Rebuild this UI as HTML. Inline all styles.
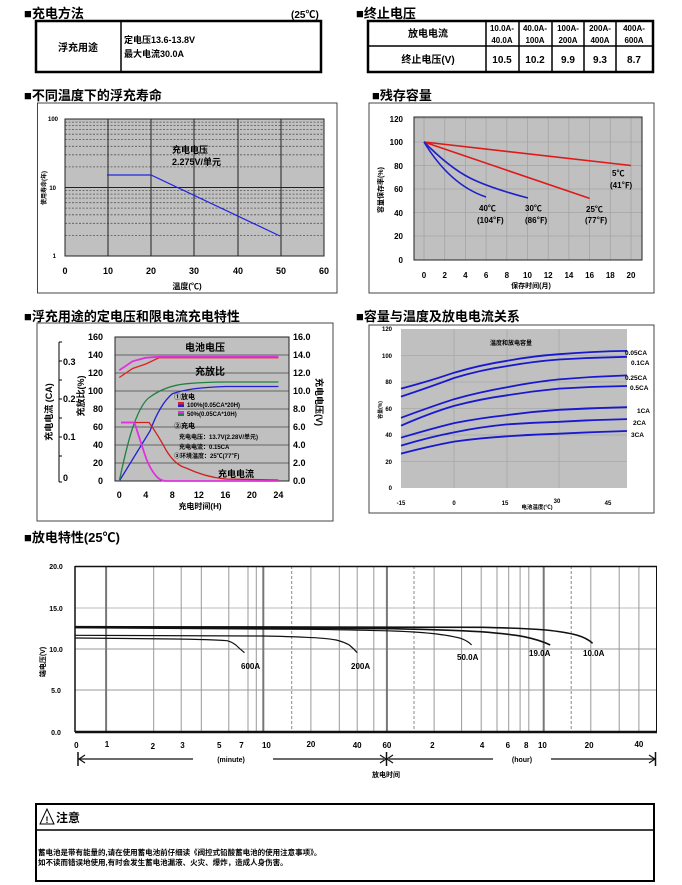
<!DOCTYPE html>
<html><head><meta charset="utf-8"><style>
html,body{margin:0;padding:0;background:#fff}
svg{display:block}
text{font-family:"Liberation Sans","Noto Sans CJK SC",sans-serif;font-weight:bold;fill:#000}
</style></head><body>
<svg width="682" height="885" viewBox="0 0 682 885" xmlns="http://www.w3.org/2000/svg">
<!-- Titles -->
<g font-size="13">
<text x="24" y="18">■充电方法</text>
<text x="356" y="18">■终止电压</text>
<text x="24" y="100">■不同温度下的浮充寿命</text>
<text x="372" y="100">■残存容量</text>
<text x="24" y="321">■浮充用途的定电压和限电流充电特性</text>
<text x="356" y="321">■容量与温度及放电电流关系</text>
<text x="24" y="542">■放电特性(25℃)</text>
</g>
<text x="291" y="18" font-size="10">(25℃)</text>
<!-- Table 1 -->
<rect x="36" y="21" width="285" height="51" fill="none" stroke="#000" stroke-width="2.5"/>
<line x1="121" y1="21" x2="121" y2="72" stroke="#000" stroke-width="1.5"/>
<text x="78" y="51" font-size="10" text-anchor="middle">浮充用途</text>
<text x="124" y="43" font-size="9">定电压13.6-13.8V</text>
<text x="124" y="57" font-size="9">最大电流30.0A</text>
<!-- Table 2 -->
<rect x="368" y="21" width="285" height="51" fill="none" stroke="#000" stroke-width="2.5"/>
<line x1="368" y1="46" x2="653" y2="46" stroke="#000" stroke-width="1.5"/>
<g stroke="#000" stroke-width="1.5">
<line x1="486" y1="21" x2="486" y2="72"/><line x1="519" y1="21" x2="519" y2="72"/>
<line x1="552" y1="21" x2="552" y2="72"/><line x1="584" y1="21" x2="584" y2="72"/>
<line x1="616" y1="21" x2="616" y2="72"/></g>
<g font-size="8" text-anchor="middle" font-weight="normal">
<text x="428" y="37" font-size="10">放电电流</text>
<text x="502" y="31">10.0A-</text><text x="502" y="43">40.0A</text>
<text x="535" y="31">40.0A-</text><text x="535" y="43">100A</text>
<text x="568" y="31">100A-</text><text x="568" y="43">200A</text>
<text x="600" y="31">200A-</text><text x="600" y="43">400A</text>
<text x="634" y="31">400A-</text><text x="634" y="43">600A</text>
<text x="428" y="63" font-size="10">终止电压(V)</text>
<text x="502" y="63" font-size="10">10.5</text><text x="535" y="63" font-size="10">10.2</text>
<text x="568" y="63" font-size="10">9.9</text><text x="600" y="63" font-size="10">9.3</text>
<text x="634" y="63" font-size="10">8.7</text>
</g>

<!-- Chart 1: float life -->
<rect x="37.5" y="103" width="299.5" height="190" fill="#fff" stroke="#444" stroke-width="1"/>
<rect x="65" y="119" width="259" height="137" fill="#c0c0c0"/>
<g stroke="#555" stroke-width="0.8" stroke-dasharray="2,1.5">
<line x1="65" x2="324" y1="235.4" y2="235.4"/><line x1="65" x2="324" y1="223.3" y2="223.3"/>
<line x1="65" x2="324" y1="214.8" y2="214.8"/><line x1="65" x2="324" y1="208.1" y2="208.1"/>
<line x1="65" x2="324" y1="202.7" y2="202.7"/><line x1="65" x2="324" y1="198.1" y2="198.1"/>
<line x1="65" x2="324" y1="194.1" y2="194.1"/><line x1="65" x2="324" y1="190.6" y2="190.6"/>
<line x1="65" x2="324" y1="166.9" y2="166.9"/><line x1="65" x2="324" y1="154.8" y2="154.8"/>
<line x1="65" x2="324" y1="146.3" y2="146.3"/><line x1="65" x2="324" y1="139.6" y2="139.6"/>
<line x1="65" x2="324" y1="134.2" y2="134.2"/><line x1="65" x2="324" y1="129.6" y2="129.6"/>
<line x1="65" x2="324" y1="125.6" y2="125.6"/><line x1="65" x2="324" y1="122.1" y2="122.1"/>
</g>
<g stroke="#222" stroke-width="1">
<line x1="65" x2="324" y1="187.5" y2="187.5"/>
<line x1="108" x2="108" y1="119" y2="256"/><line x1="151" x2="151" y1="119" y2="256"/>
<line x1="194" x2="194" y1="119" y2="256"/><line x1="238" x2="238" y1="119" y2="256"/>
<line x1="281" x2="281" y1="119" y2="256"/>
<rect x="65" y="119" width="259" height="137" fill="none"/>
</g>
<polyline points="107,175 151,175 280,236" fill="none" stroke="#2424e0" stroke-width="1.2"/>
<text x="172" y="153" font-size="9">充电电压</text>
<text x="172" y="165" font-size="9" font-weight="normal">2.275V/单元</text>
<g font-size="6" text-anchor="end"><text x="58" y="121">100</text><text x="56" y="190">10</text><text x="56" y="258">1</text></g>
<text transform="translate(46,188) rotate(-90)" font-size="6" text-anchor="middle">使用寿命(年)</text>
<g font-size="9" text-anchor="middle">
<text x="65" y="274">0</text><text x="108" y="274">10</text><text x="151" y="274">20</text>
<text x="194" y="274">30</text><text x="238" y="274">40</text><text x="281" y="274">50</text><text x="324" y="274">60</text>
<text x="187" y="289" font-size="8">温度(℃)</text></g>

<!-- Chart 2: residual capacity -->
<rect x="369" y="103" width="285" height="190" fill="#fff" stroke="#444" stroke-width="1"/>
<rect x="414" y="117" width="228" height="143" fill="#c0c0c0"/>
<g stroke="#a4a4a4" stroke-width="0.8">
<line x1="444.7" x2="444.7" y1="117" y2="260"/><line x1="465.4" x2="465.4" y1="117" y2="260"/>
<line x1="486.1" x2="486.1" y1="117" y2="260"/><line x1="506.8" x2="506.8" y1="117" y2="260"/>
<line x1="527.5" x2="527.5" y1="117" y2="260"/><line x1="548.2" x2="548.2" y1="117" y2="260"/>
<line x1="568.9" x2="568.9" y1="117" y2="260"/><line x1="589.6" x2="589.6" y1="117" y2="260"/>
<line x1="610.3" x2="610.3" y1="117" y2="260"/><line x1="631" x2="631" y1="117" y2="260"/>
<line x1="424" x2="424" y1="117" y2="260"/>
<line x1="414" x2="642" y1="236" y2="236"/><line x1="414" x2="642" y1="212.5" y2="212.5"/>
<line x1="414" x2="642" y1="189" y2="189"/><line x1="414" x2="642" y1="165.5" y2="165.5"/>
<line x1="414" x2="642" y1="142" y2="142"/><line x1="414" x2="642" y1="118.5" y2="118.5"/>
</g>
<rect x="414" y="117" width="228" height="143" fill="none" stroke="#222" stroke-width="1"/>
<g fill="none" stroke-width="1.6">
<line x1="424" y1="142" x2="631" y2="165.5" stroke="#e01818"/>
<line x1="424" y1="142" x2="589.6" y2="198.4" stroke="#e01818"/>
<path d="M424,142 Q450,168 470,178 Q490,188 528,198" stroke="#2020c8"/>
<path d="M424,142 Q450,185 486,197" stroke="#2020c8"/>
</g>
<g font-size="8">
<text x="612" y="176">5℃</text><text x="610" y="188">(41℉)</text>
<text x="479" y="211">40℃</text><text x="477" y="223">(104℉)</text>
<text x="525" y="211">30℃</text><text x="525" y="223">(86℉)</text>
<text x="586" y="212">25℃</text><text x="585" y="223">(77℉)</text>
</g>
<g font-size="8" text-anchor="end">
<text x="403" y="122">120</text><text x="403" y="145">100</text><text x="403" y="169">80</text>
<text x="403" y="192">60</text><text x="403" y="216">40</text><text x="403" y="239">20</text><text x="403" y="263">0</text></g>
<text transform="translate(383,190) rotate(-90)" font-size="7" text-anchor="middle">容量保存率(%)</text>
<g font-size="8" text-anchor="middle">
<text x="424" y="278">0</text><text x="444.7" y="278">2</text><text x="465.4" y="278">4</text>
<text x="486.1" y="278">6</text><text x="506.8" y="278">8</text><text x="527.5" y="278">10</text>
<text x="548.2" y="278">12</text><text x="568.9" y="278">14</text><text x="589.6" y="278">16</text>
<text x="610.3" y="278">18</text><text x="631" y="278">20</text>
<text x="531" y="288" font-size="7">保存时间(月)</text></g>

<!-- Chart 3: charging -->
<rect x="37" y="323" width="296" height="198" fill="#fff" stroke="#444" stroke-width="1"/>
<rect x="115" y="337" width="174" height="144" fill="#c0c0c0"/>
<g stroke="#444" stroke-width="0.8">
<line x1="115" x2="289" y1="463" y2="463"/><line x1="115" x2="289" y1="445" y2="445"/>
<line x1="115" x2="289" y1="427" y2="427"/><line x1="115" x2="289" y1="409" y2="409"/>
<line x1="115" x2="289" y1="391" y2="391"/><line x1="115" x2="289" y1="373" y2="373"/>
<line x1="115" x2="289" y1="355" y2="355"/>
</g>
<rect x="115" y="337" width="174" height="144" fill="none" stroke="#222" stroke-width="1"/>
<line x1="59" y1="342" x2="59" y2="482" stroke="#000" stroke-width="1"/>
<g stroke="#000" stroke-width="1"><line x1="59" x2="62" y1="342" y2="342"/><line x1="59" x2="62" y1="361" y2="361"/><line x1="59" x2="62" y1="380" y2="380"/><line x1="59" x2="62" y1="399" y2="399"/><line x1="59" x2="62" y1="418" y2="418"/><line x1="59" x2="62" y1="437" y2="437"/><line x1="59" x2="62" y1="456" y2="456"/><line x1="59" x2="62" y1="482" y2="482"/></g>
<g fill="none" stroke-width="1.3">
<polyline points="119.3,377.5 132.6,368.5 145.8,364 159.1,357.7 278.4,357.7" stroke="#e02020"/>
<polyline points="119.3,370.3 132.6,361.3 145.8,357.7 159.1,356.8 278.4,356.8" stroke="#e030e0" stroke-width="1.8"/>
<path d="M119.3,481 L150,431 Q160,404 172.3,393.7 Q190,387.5 225.4,386.5 L278.4,386.5" stroke="#2020d0"/>
<path d="M119.3,481 Q128,440 134,424 Q142,402 150,397 Q165,386 185.6,383.8 Q205,382 225.4,382 L278.4,382" stroke="#208040"/>
<path d="M121,422.5 L149.1,422.5 Q158,435 166,450 Q175,465 186,468 Q205,477 225.4,479 L278.4,480" stroke="#d02020"/>
<path d="M121,422.5 L134.5,422.5 Q140,440 145,455 Q150,470 158,478 Q162,481 166,481 L278.4,481" stroke="#e030e0" stroke-width="1.8"/>
</g>
<text x="185" y="351" font-size="10">电池电压</text>
<text x="195" y="375" font-size="10">充放比</text>
<g font-size="6">
<text x="174" y="399" font-size="7">①放电</text>
<rect x="178" y="402" width="6" height="2.5" fill="#e02020"/><rect x="178" y="404.5" width="6" height="2.5" fill="#2020d0"/>
<text x="187" y="407">100%(0.05CA*20H)</text>
<rect x="178" y="411" width="6" height="2.5" fill="#e030e0"/><rect x="178" y="413.5" width="6" height="2.5" fill="#208040"/>
<text x="187" y="416">50%(0.05CA*10H)</text>
<text x="174" y="428" font-size="7">②充电</text>
<text x="179" y="439">充电电压：13.7V(2.28V/单元)</text>
<text x="179" y="449">充电电流：0.15CA</text>
<text x="174" y="458">③环境温度：25℃(77℉)</text>
</g>
<text x="218" y="477" font-size="9">充电电流</text>
<g font-size="9" text-anchor="end">
<text x="103" y="340">160</text><text x="103" y="358">140</text><text x="103" y="376">120</text>
<text x="103" y="394">100</text><text x="103" y="412">80</text><text x="103" y="430">60</text>
<text x="103" y="448">40</text><text x="103" y="466">20</text><text x="103" y="484">0</text></g>
<g font-size="9">
<text x="293" y="340">16.0</text><text x="293" y="358">14.0</text><text x="293" y="376">12.0</text>
<text x="293" y="394">10.0</text><text x="293" y="412">8.0</text><text x="293" y="430">6.0</text>
<text x="293" y="448">4.0</text><text x="293" y="466">2.0</text><text x="293" y="484">0.0</text></g>
<g font-size="9"><text x="63" y="365">0.3</text><text x="63" y="402">0.2</text><text x="63" y="440">0.1</text><text x="63" y="481">0</text></g>
<text transform="translate(52,412) rotate(-90)" font-size="9" text-anchor="middle">充电电流 (CA)</text>
<text transform="translate(84,396) rotate(-90)" font-size="9" text-anchor="middle">充放比(%)</text>
<text transform="translate(316,402) rotate(90)" font-size="9" text-anchor="middle">充电电压(V)</text>
<g font-size="9" text-anchor="middle">
<text x="119.3" y="498">0</text><text x="145.8" y="498">4</text><text x="172.3" y="498">8</text>
<text x="198.9" y="498">12</text><text x="225.4" y="498">16</text><text x="251.9" y="498">20</text><text x="278.4" y="498">24</text>
<text x="200" y="509" font-size="8">充电时间(H)</text></g>

<!-- Chart 4 -->
<rect x="369" y="325" width="285" height="188" fill="#fff" stroke="#444" stroke-width="1"/>
<rect x="401" y="329" width="226" height="159" fill="#c0c0c0"/>
<g stroke="#a8a8a8" stroke-width="0.8">
<line x1="454" x2="454" y1="329" y2="488"/><line x1="507" x2="507" y1="329" y2="488"/>
<line x1="559" x2="559" y1="329" y2="488"/>
<line x1="401" x2="627" y1="461.5" y2="461.5"/><line x1="401" x2="627" y1="435" y2="435"/>
<line x1="401" x2="627" y1="408.5" y2="408.5"/><line x1="401" x2="627" y1="382" y2="382"/>
<line x1="401" x2="627" y1="355.5" y2="355.5"/>
</g>
<g fill="none" stroke="#1818d0" stroke-width="1.8" stroke-linejoin="round">
<path d="M401,388.6 Q430,381 454,372.7 Q480,365 507,360.8 Q533,356 559,354.2 Q593,351.5 627,350.9"/>
<path d="M401,396.6 Q430,387 454,378 Q480,370 507,366.1 Q533,361.5 559,359.5 Q593,357.5 627,356.8"/>
<path d="M401,417.8 Q430,407 454,399.2 Q480,392 507,387.3 Q533,382 559,379.4 Q593,376.5 627,375.4"/>
<path d="M401,425.7 Q430,413 454,405.9 Q480,399 507,395.3 Q533,391 559,388.6 Q593,386.5 627,386"/>
<path d="M401,437.7 Q430,429 454,423.1 Q480,418 507,415.1 Q533,411.5 559,409.8 Q593,408 627,407.2"/>
<path d="M401,445.6 Q430,437 454,432.4 Q480,427 507,424.4 Q533,422.5 559,421.8 Q593,419.8 627,419.1"/>
<path d="M401,453.6 Q430,446 454,441.6 Q480,438 507,436.3 Q533,434.5 559,433.7 Q593,432 627,431"/>
</g>
<g font-size="6.5">
<text x="625" y="355">0.05CA</text><text x="631" y="365">0.1CA</text><text x="625" y="380">0.25CA</text>
<text x="630" y="390">0.5CA</text><text x="637" y="413">1CA</text><text x="633" y="425">2CA</text><text x="631" y="437">3CA</text></g>
<text x="511" y="345" font-size="6" text-anchor="middle">温度和放电容量</text>
<g font-size="6" text-anchor="end">
<text x="392" y="331">120</text><text x="392" y="358">100</text><text x="392" y="384">80</text>
<text x="392" y="411">60</text><text x="392" y="437">40</text><text x="392" y="464">20</text><text x="392" y="490">0</text></g>
<text transform="translate(382,410) rotate(-90)" font-size="5" text-anchor="middle">容量(%)</text>
<g font-size="6" text-anchor="middle">
<text x="401" y="505">-15</text><text x="454" y="505">0</text><text x="505" y="505">15</text>
<text x="557" y="503">30</text><text x="608" y="505">45</text>
<text x="537" y="509" font-size="5.5">电池温度(℃)</text></g>

<!-- Discharge chart -->
<rect x="75" y="566" width="582" height="166" fill="#fff"/>
<g stroke="#bbb" stroke-width="1"><line x1="75" x2="657" y1="608" y2="608"/></g>
<g stroke="#999" stroke-width="1"><line x1="75" x2="657" y1="649" y2="649"/><line x1="75" x2="657" y1="690" y2="690"/></g>
<g stroke="#999" stroke-width="1">
<line x1="153.7" x2="153.7" y1="566" y2="732"/><line x1="181.2" x2="181.2" y1="566" y2="732"/>
<line x1="201.3" x2="201.3" y1="566" y2="732"/><line x1="228.8" x2="228.8" y1="566" y2="732"/>
<line x1="248" x2="248" y1="566" y2="732"/><line x1="256.3" x2="256.3" y1="566" y2="732"/>
<line x1="310.9" x2="310.9" y1="566" y2="732"/><line x1="339.3" x2="339.3" y1="566" y2="732"/>
<line x1="357.2" x2="357.2" y1="566" y2="732"/><line x1="373.8" x2="373.8" y1="566" y2="732"/>
<line x1="434.1" x2="434.1" y1="566" y2="732"/><line x1="461.6" x2="461.6" y1="566" y2="732"/>
<line x1="481.2" x2="481.2" y1="566" y2="732"/><line x1="497" x2="497" y1="566" y2="732"/>
<line x1="508.7" x2="508.7" y1="566" y2="732"/><line x1="520.1" x2="520.1" y1="566" y2="732"/>
<line x1="528.8" x2="528.8" y1="566" y2="732"/><line x1="590.8" x2="590.8" y1="566" y2="732"/>
<line x1="619.2" x2="619.2" y1="566" y2="732"/><line x1="638.9" x2="638.9" y1="566" y2="732"/>
</g>
<g stroke="#888" stroke-width="1" stroke-dasharray="3,2">
<line x1="291.7" x2="291.7" y1="566" y2="732"/><line x1="414" x2="414" y1="566" y2="732"/><line x1="571.2" x2="571.2" y1="566" y2="732"/></g>
<g stroke="#777" stroke-width="2">
<line x1="106.1" x2="106.1" y1="566" y2="732"/><line x1="263.3" x2="263.3" y1="566" y2="732"/>
<line x1="386.9" x2="386.9" y1="566" y2="732"/><line x1="543.7" x2="543.7" y1="566" y2="732"/></g>
<g stroke="#111" fill="none">
<line x1="75" x2="657" y1="566.5" y2="566.5" stroke-width="1.5"/>
<line x1="75" x2="657" y1="732" y2="732" stroke-width="2.5"/>
<line x1="75" x2="75" y1="566" y2="732" stroke-width="1.5"/>
<line x1="656.5" x2="656.5" y1="566" y2="732" stroke-width="1"/>
</g>
<g fill="none" stroke="#111" stroke-width="1.2">
<path d="M75,626.7 L480.3,627.3 Q520,628 545.9,630 Q565,632 576.4,635 Q587,638 592.6,643.3" stroke-width="1.6"/>
<path d="M75,627.3 L393,628.7 Q450,630 480.3,631.7 Q510,634 524,636.7 Q540,640 550.2,645" stroke-width="1.6"/>
<path d="M75,627.8 L305.7,629.3 Q360,630 393,631 Q420,632 436.7,634 Q452,636 460.7,638.3 Q468,641 471.6,645"/>
<path d="M75,635.3 L262,636 Q290,636.5 305.7,637.3 Q325,638 336.2,640 Q344,642 349.3,645 Q354,649 357.2,652.7"/>
<path d="M75,638 L174.7,639 Q210,639.5 227,640.7 Q232,642 235.8,645 Q240,649 244.5,652.7"/>
</g>
<g font-size="8">
<text x="241" y="669">600A</text><text x="351" y="669">200A</text><text x="457" y="660">50.0A</text>
<text x="529" y="656">19.0A</text><text x="583" y="656">10.0A</text></g>
<g font-size="7" text-anchor="middle">
<text x="56" y="569">20.0</text><text x="56" y="611">15.0</text><text x="56" y="652">10.0</text>
<text x="56" y="693">5.0</text><text x="56" y="735">0.0</text></g>
<text transform="translate(45,662) rotate(-90)" font-size="7" text-anchor="middle">端电压(V)</text>
<g font-size="8" text-anchor="middle">
<text x="76.4" y="748">0</text><text x="107" y="747">1</text><text x="152.8" y="749">2</text>
<text x="182.5" y="748">3</text><text x="219.2" y="748">5</text><text x="241.5" y="748">7</text>
<text x="266.4" y="748">10</text><text x="310.9" y="747">20</text><text x="357.2" y="748">40</text>
<text x="386.9" y="748">60</text><text x="432.3" y="748">2</text><text x="482.1" y="748">4</text>
<text x="507.9" y="748">6</text><text x="526.2" y="748">8</text><text x="542.4" y="748">10</text>
<text x="589.1" y="748">20</text><text x="638.9" y="747">40</text></g>
<g stroke="#111" stroke-width="1.2" fill="none">
<line x1="79" x2="193" y1="759" y2="759"/><line x1="273" x2="384" y1="759" y2="759"/>
<line x1="389" x2="493" y1="759" y2="759"/><line x1="551" x2="655" y1="759" y2="759"/>
<line x1="78" x2="78" y1="752" y2="766" stroke-width="1.5"/><line x1="386.5" x2="386.5" y1="752" y2="766" stroke-width="1.5"/>
<line x1="655.5" x2="655.5" y1="752" y2="766" stroke-width="1.5"/>
<polyline points="85,755 79,759 85,763"/><polyline points="380,755 386,759 380,763"/>
<polyline points="393,755 387,759 393,763"/><polyline points="649,755 655,759 649,763"/>
</g>
<text x="231" y="762" font-size="7" font-weight="normal" text-anchor="middle">(minute)</text>
<text x="522" y="762" font-size="7" font-weight="normal" text-anchor="middle">(hour)</text>
<text x="386" y="777" font-size="7" text-anchor="middle">放电时间</text>

<!-- Note box -->
<rect x="36" y="804" width="618" height="77" fill="none" stroke="#000" stroke-width="2"/>
<line x1="36" y1="830" x2="654" y2="830" stroke="#000" stroke-width="1.5"/>
<polygon points="47,809 40,824 54,824" fill="none" stroke="#000" stroke-width="1"/>
<text x="47" y="823" font-size="9" text-anchor="middle">!</text>
<text x="56" y="822" font-size="12">注意</text>
<text x="38" y="855" font-size="7.5">蓄电池是带有能量的,请在使用蓄电池前仔细读《阀控式铅酸蓄电池的使用注意事项》。</text>
<text x="38" y="865" font-size="7.5">如不读而错误地使用,有时会发生蓄电池漏液、火灾、爆炸，造成人身伤害。</text>
</svg>
</body></html>
